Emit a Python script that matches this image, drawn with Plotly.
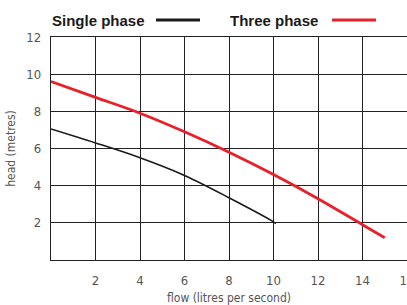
import plotly.graph_objects as go

single_x = [0, 2, 4, 6, 8, 10, 10.1]
single_y = [7.05, 6.3, 5.5, 4.55, 3.35, 2.05, 1.95]
three_x = [0, 2, 4, 6, 8, 10, 12, 14, 15]
three_y = [9.6, 8.75, 7.9, 6.9, 5.8, 4.6, 3.3, 1.9, 1.2]
x_ticks = [2, 4, 6, 8, 10, 12, 14, 16]
y_ticks = [2, 4, 6, 8, 10, 12]

FONT = "DejaVu Sans Condensed, Liberation Sans Narrow, Liberation Sans, Arial, sans-serif"
RED = "#e8202a"
W, H = 407, 305
L, R, T, B = 51, 0, 37, 45

fig = go.Figure()
fig.add_trace(go.Scatter(x=single_x, y=single_y, mode="lines", line=dict(color="#1a1a1a", width=1.6, shape="spline"), showlegend=False))
fig.add_trace(go.Scatter(x=three_x, y=three_y, mode="lines", line=dict(color=RED, width=2.8, shape="spline"), showlegend=False))

fig.update_layout(
    width=W, height=H, autosize=False,
    margin=dict(l=L, r=R, t=T, b=B, autoexpand=False),
    paper_bgcolor="white", plot_bgcolor="white",
    font=dict(family=FONT, color="#555", size=13),
    showlegend=False,
    xaxis=dict(range=[0, 16], tickvals=x_ticks, showgrid=True, gridcolor="#222", gridwidth=1.4,
               showline=True, linecolor="#222", linewidth=1.4, mirror=True, zeroline=False,
               ticks="", ticklabelstandoff=8, ticklabeloverflow="allow", automargin=False,
               title=dict(text="flow (litres per second)", font=dict(size=12, color="#555"), standoff=6)),
    yaxis=dict(range=[0, 12], tickvals=y_ticks, showgrid=True, gridcolor="#222", gridwidth=1.4,
               showline=True, linecolor="#222", linewidth=1.4, mirror=False, zeroline=False,
               ticks="", ticklabelstandoff=6, automargin=False,
               title=dict(text="head (metres)", font=dict(size=12, color="#555"), standoff=8)),
)

pw = W - L - R
ly = 1 + (T - 20) / (H - T - B)
legend_items = [("Single phase", "#1a1a1a", 50, 156, 200), ("Three phase", RED, 228, 332, 376)]
for text, color, tx, x0, x1 in legend_items:
    fig.add_annotation(text="<b>%s</b>" % text, xref="paper", yref="paper",
                       x=(tx - L) / pw, y=ly, xanchor="left", yanchor="middle", showarrow=False,
                       font=dict(family="Liberation Sans, Arial, sans-serif", size=15, color="#1a1a1a"))
    fig.add_shape(type="line", xref="paper", yref="paper",
                  x0=(x0 - L) / pw, x1=(x1 - L) / pw, y0=ly, y1=ly,
                  line=dict(color=color, width=2.8))

fig.write_html("out.html", config={"displayModeBar": False},
               post_script="document.body.style.margin='0';document.body.style.overflow='hidden';")
